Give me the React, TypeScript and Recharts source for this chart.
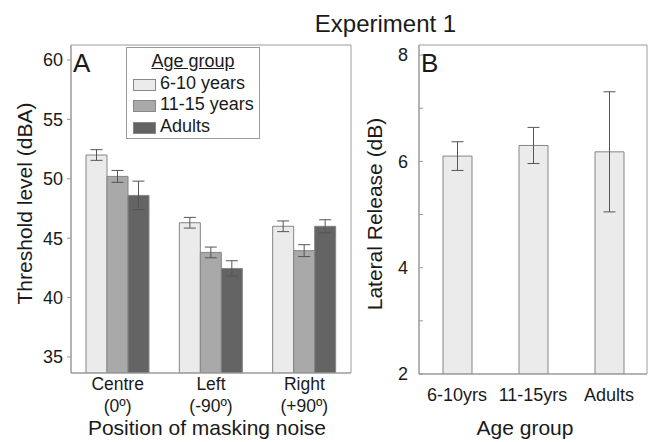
import { BarChart, Bar, XAxis, YAxis, ErrorBar, ReferenceArea, Legend } from "recharts";

const font = '"Liberation Sans", Arial, sans-serif';

// panel A: threshold by masker position
const positions = ["Centre", "Left", "Right"];
const positionAngles = ["(0º)", "(-90º)", "(+90º)"];
const groupNames = ["6-10 years", "11-15 years", "Adults"];
const groupColors = ["#ebebeb", "#a9a9a9", "#646464"];
const youngest = [52.0, 46.3, 46.0];
const youngestErr = [0.45, 0.45, 0.45];
const middle = [50.2, 43.8, 43.95];
const middleErr = [0.5, 0.45, 0.5];
const adults = [48.6, 42.45, 46.0];
const adultsErr = [1.2, 0.65, 0.55];
const thresholdTicks = [35, 40, 45, 50, 55, 60];
const thresholdDomain = [33.65, 61.26];

// panel B: lateral release per age group
const ageLabels = ["6-10yrs", "11-15yrs", "Adults"];
const release = [6.1, 6.3, 6.18];
const releaseErr = [0.27, 0.34, 1.13];
const releaseTicks = [2, 3, 4, 5, 6, 7, 8];
const releaseDomain = [2, 8.19];

const thresholdData = positions.map((p, i) => ({
  position: p,
  g0: youngest[i],
  e0: youngestErr[i],
  g1: middle[i],
  e1: middleErr[i],
  g2: adults[i],
  e2: adultsErr[i],
}));

const releaseData = ageLabels.map((a, i) => ({ age: a, value: release[i], err: releaseErr[i] }));

const frame = "#9a9a9a";
const ink = "#1a1a1a";

function PositionTick({ x, y, payload }: any) {
  const i = positions.indexOf(payload.value);
  return (
    <text x={x} y={y} textAnchor="middle" fontSize={17.5} fill={ink} fontFamily={font}>
      <tspan x={x} dy={17}>{positions[i]}</tspan>
      <tspan x={x} dy={22}>{positionAngles[i]}</tspan>
    </text>
  );
}

function AgeLegend() {
  return (
    <div
      style={{
        width: 134,
        height: 92,
        border: `1px solid ${frame}`,
        background: "#fff",
        boxSizing: "border-box",
        fontFamily: font,
        fontSize: 18,
        color: ink,
        lineHeight: "21.7px",
      }}
    >
      <div style={{ textAlign: "center", textDecoration: "underline", marginTop: 3 }}>Age group</div>
      {groupNames.map((g, i) => (
        <div key={g} style={{ display: "flex", alignItems: "center", paddingLeft: 6 }}>
          <span
            style={{
              display: "inline-block",
              width: 23,
              height: 12,
              marginTop: 2,
              marginRight: 4,
              background: groupColors[i],
              border: "1px solid #888",
              boxSizing: "border-box",
            }}
          />
          {g}
        </div>
      ))}
    </div>
  );
}

export default function App() {
  return (
    <div style={{ position: "absolute", left: 0, top: 0, width: 648, height: 442, background: "#fff", fontFamily: font }}>
      <div style={{ position: "absolute", left: 0, top: 0 }}>
        <BarChart
          width={360}
          height={442}
          data={thresholdData}
          margin={{ top: 45, right: 9, bottom: 0, left: 0 }}
          barGap={0}
          barSize={21}
        >
          <XAxis
            dataKey="position"
            height={69}
            tickLine={false}
            tickSize={0}
            tickMargin={0}
            stroke={frame}
            tick={<PositionTick />}
            interval={0}
          />
          <YAxis
            width={71}
            domain={thresholdDomain}
            allowDataOverflow
            ticks={thresholdTicks}
            tickSize={4}
            tickMargin={4}
            stroke={frame}
            tick={{ fontSize: 18, fill: ink, fontFamily: font }}
          />
          <ReferenceArea y1={thresholdDomain[0]} y2={thresholdDomain[1]} fill="none" stroke={frame} />
          <Legend
            layout="vertical"
            align="center"
            verticalAlign="middle"
            content={<AgeLegend />}
            wrapperStyle={{ position: "absolute", left: 126, top: 47, width: 134, height: 92 }}
          />
          {[0, 1, 2].map((k) => (
            <Bar
              key={k}
              dataKey={`g${k}`}
              name={groupNames[k]}
              fill={groupColors[k]}
              stroke="#858585"
              isAnimationActive={false}
            >
              <ErrorBar dataKey={`e${k}`} width={6} stroke="#555" strokeWidth={1} isAnimationActive={false} />
            </Bar>
          ))}
        </BarChart>
      </div>

      <div style={{ position: "absolute", left: 360, top: 0 }}>
        <BarChart
          width={288}
          height={442}
          data={releaseData}
          margin={{ top: 45, right: 1, bottom: 0, left: 0 }}
          barSize={29}
        >
          <XAxis
            dataKey="age"
            height={68}
            tickLine={false}
            tickSize={0}
            tickMargin={14}
            stroke={frame}
            interval={0}
            tick={{ fontSize: 18, fill: ink, fontFamily: font }}
          />
          <YAxis
            width={59}
            domain={releaseDomain}
            allowDataOverflow
            ticks={releaseTicks}
            tickFormatter={(v: number) => (v % 2 === 0 ? String(v) : "")}
            tickSize={-4}
            tickMargin={15}
            stroke={frame}
            tick={{ fontSize: 18, fill: ink, fontFamily: font }}
          />
          <ReferenceArea y1={releaseDomain[0]} y2={releaseDomain[1]} fill="none" stroke={frame} />
          <Bar dataKey="value" fill={groupColors[0]} stroke="#858585" isAnimationActive={false}>
            <ErrorBar dataKey="err" width={6} stroke="#555" strokeWidth={1} isAnimationActive={false} />
          </Bar>
        </BarChart>
      </div>

      <svg
        width={648}
        height={442}
        style={{ position: "absolute", left: 0, top: 0, pointerEvents: "none" }}
        fontFamily={font}
        fill={ink}
      >
        <text x={385.5} y={32} fontSize={24} textAnchor="middle">Experiment 1</text>
        <text x={73} y={72} fontSize={26}>A</text>
        <text x={421} y={72} fontSize={26}>B</text>
        <text transform="translate(32,203.5) rotate(-90)" fontSize={21} textAnchor="middle">
          Threshold level (dBA)
        </text>
        <text x={207} y={435} fontSize={21} textAnchor="middle">Position of masking noise</text>
        <text transform="translate(382,214) rotate(-90)" fontSize={21} textAnchor="middle">
          Lateral Release (dB)
        </text>
        <text x={525} y={435} fontSize={21} textAnchor="middle">Age group</text>
      </svg>
    </div>
  );
}
